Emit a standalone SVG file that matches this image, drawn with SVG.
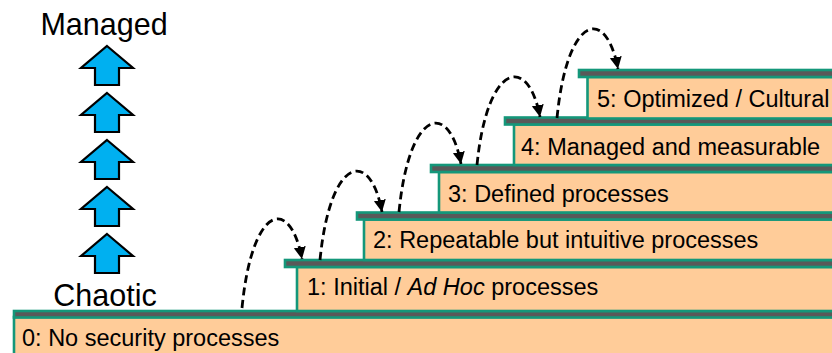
<svg xmlns="http://www.w3.org/2000/svg" width="832" height="353" viewBox="0 0 832 353">
<defs>
<style>
.box{fill:#FFCC99;stroke:#14977A;stroke-width:2.6}
.slab{fill:#595959;stroke:#14977A;stroke-width:2.6}
.lbl{font-family:"Liberation Sans",Arial,sans-serif;font-size:23.5px;fill:#000}
.big{font-family:"Liberation Sans",Arial,sans-serif;font-size:30.5px;fill:#000;text-anchor:middle}
.up{fill:#00B0F0;stroke:#000;stroke-width:2.2;stroke-linejoin:miter}
.arc{fill:none;stroke:#000;stroke-width:2.8;stroke-dasharray:8 4.5;marker-end:url(#ah)}
</style>
<marker id="ah" markerUnits="userSpaceOnUse" markerWidth="16" markerHeight="16" refX="12" refY="6" orient="auto">
<path d="M0,0 L12,6 L0,12 z" fill="#000"/>
</marker>
<polygon id="uparrow" points="0,0 26,22 12,22 12,39 -12,39 -12,22 -26,22"/>
</defs>
<rect width="832" height="353" fill="#fff"/>

<g id="step0">
<rect class="box" x="14" y="317" width="830" height="45"/>
<rect class="slab" x="14" y="311" width="830" height="6.5"/>
<text class="lbl" x="22" y="346">0: No security processes</text>
</g>
<g id="step1">
<rect class="box" x="297" y="267" width="550" height="44"/>
<rect class="slab" x="285" y="260" width="560" height="7"/>
<text class="lbl" x="307" y="295">1: Initial / <tspan font-style="italic">Ad Hoc</tspan> processes</text>
</g>
<g id="step2">
<rect class="box" x="364" y="219.5" width="480" height="40.5"/>
<rect class="slab" x="357" y="212.5" width="490" height="7"/>
<text class="lbl" x="373" y="247.5">2: Repeatable but intuitive processes</text>
</g>
<g id="step3">
<rect class="box" x="439" y="172" width="410" height="40.5"/>
<rect class="slab" x="431" y="165" width="420" height="7"/>
<text class="lbl" x="448" y="201.5">3: Defined processes</text>
</g>
<g id="step4">
<rect class="box" x="514" y="124.5" width="330" height="40.5"/>
<rect class="slab" x="505" y="117.5" width="340" height="7"/>
<text class="lbl" x="521" y="155">4: Managed and measurable</text>
</g>
<g id="step5">
<rect class="box" x="587.5" y="77" width="260" height="41.5"/>
<rect class="slab" x="579" y="70" width="270" height="7"/>
<text class="lbl" x="597" y="106.5">5: Optimized / Cultural</text>
</g>

<g id="scale">
<text class="big" x="104" y="35">Managed</text>
<use href="#uparrow" class="up" x="107" y="46"/>
<use href="#uparrow" class="up" x="107" y="93"/>
<use href="#uparrow" class="up" x="107" y="140"/>
<use href="#uparrow" class="up" x="107" y="187"/>
<use href="#uparrow" class="up" x="107" y="234"/>
<text class="big" x="105" y="306">Chaotic</text>
</g>

<g id="connectors">
<path class="arc" d="M242,308 C252,205 290,195 302,259"/>
<path class="arc" d="M320,260 C330,157 370,147 382,212"/>
<path class="arc" d="M399,212 C409,109 449,99 461,164"/>
<path class="arc" d="M477,165 C487,63 528,53 540,117"/>
<path class="arc" d="M557,118 C567,15 606,5 618,69"/>
</g>
</svg>
